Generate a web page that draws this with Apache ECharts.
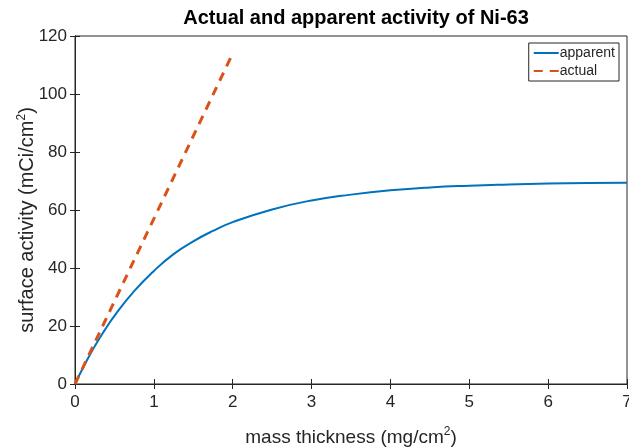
<!DOCTYPE html>
<html>
<head>
<meta charset="utf-8">
<title>Ni-63</title>
<script src="https://cdn.jsdelivr.net/npm/echarts@6/dist/echarts.min.js"></script>
<style>
  html, body { margin: 0; padding: 0; background: #fff; }
  #main { width: 629px; height: 447px; }
</style>
</head>
<body>
<div id="main"></div>
<script>
// mass thickness (mg/cm2)
var thickness = [0, 0.125, 0.25, 0.375, 0.5, 0.75, 1, 1.25, 1.5, 1.75, 2, 2.5, 3, 3.5, 4, 4.5, 5, 5.5, 6, 6.5, 7];
// apparent surface activity (mCi/cm2)
var apparent = [0, 6.8, 13, 18.5, 23.5, 32, 39, 44.8, 49.2, 52.8, 55.8, 60.2, 63.3, 65.3, 66.8, 67.8, 68.4, 68.8, 69.1, 69.3, 69.4];
// actual activity, straight dashed line
var actualX = [0, 2];
var actual = [0, 114];

function pairs(xs, ys) {
  var out = [];
  for (var i = 0; i < xs.length; i++) out.push([xs[i], ys[i]]);
  return out;
}

var textColor = '#262626';
var fontFam = 'Liberation Sans, Arial, sans-serif';
var supStyle = { fontSize: 12, color: textColor, fontFamily: fontFam, verticalAlign: 'top', padding: [0, 0, 11, 0] };

var chart = echarts.init(document.getElementById('main'));
var option = {
  animation: false,
  title: {
    text: 'Actual and apparent activity of Ni-63',
    left: 351,
    textAlign: 'center',
    top: 3,
    textStyle: { fontSize: 20, fontWeight: 'bold', color: '#000', fontFamily: fontFam }
  },
  legend: {
    right: 10,
    top: 43,
    orient: 'vertical',
    itemWidth: 25,
    itemHeight: 14,
    itemGap: 4,
    padding: [3, 4, 3, 4],
    borderColor: '#262626',
    borderWidth: 1,
    borderRadius: 0,
    backgroundColor: '#fff',
    itemStyle: { opacity: 0 },
    textStyle: { fontSize: 14, color: textColor, fontFamily: fontFam, padding: [0, 0, 0, -4] },
    data: ['apparent', 'actual']
  },
  grid: {
    left: 75, right: 2, top: 36, bottom: 63,
    outerBoundsMode: 'none',
    containLabel: false,
    show: true, borderColor: textColor, borderWidth: 1
  },
  xAxis: [{
    type: 'value', min: 0, max: 7, interval: 1,
    name: 'mass thickness (mg/cm{sup|2})',
    nameLocation: 'middle',
    nameGap: 42,
    nameMoveOverlap: false,
    nameTextStyle: { fontSize: 19, color: textColor, fontFamily: fontFam, rich: { sup: supStyle } },
    axisLine: { show: true, lineStyle: { color: textColor } },
    axisTick: { inside: true, length: 5, lineStyle: { color: textColor } },
    axisLabel: { fontSize: 17, color: textColor, fontFamily: fontFam, margin: 10 },
    splitLine: { show: false }
  }, {
    type: 'value', min: 0, max: 7, interval: 1, position: 'top',
    axisLine: { show: true, lineStyle: { color: textColor } },
    axisTick: { inside: true, length: 5, lineStyle: { color: textColor } },
    axisLabel: { show: false },
    splitLine: { show: false }
  }],
  yAxis: [{
    type: 'value', min: 0, max: 120, interval: 20,
    name: 'surface activity (mCi/cm{sup|2})',
    nameLocation: 'middle',
    nameGap: 36,
    nameMoveOverlap: false,
    nameTextStyle: { fontSize: 20, color: textColor, fontFamily: fontFam, padding: [0, 20, 0, 0], rich: { sup: supStyle } },
    axisLine: { show: true, lineStyle: { color: textColor } },
    axisTick: { inside: true, length: 5, lineStyle: { color: textColor } },
    axisLabel: { fontSize: 17, color: textColor, fontFamily: fontFam, margin: 8 },
    splitLine: { show: false }
  }, {
    type: 'value', min: 0, max: 120, interval: 20, position: 'right',
    axisLine: { show: true, lineStyle: { color: textColor } },
    axisTick: { inside: true, length: 5, lineStyle: { color: textColor } },
    axisLabel: { show: false },
    splitLine: { show: false }
  }],
  series: [{
    name: 'apparent',
    type: 'line',
    smooth: true,
    showSymbol: false,
    symbol: 'none',
    data: pairs(thickness, apparent),
    lineStyle: { color: '#0072BD', width: 2 },
    itemStyle: { color: '#0072BD' },
    z: 2
  }, {
    name: 'actual',
    type: 'line',
    showSymbol: false,
    symbol: 'none',
    data: pairs(actualX, actual),
    lineStyle: { color: '#D95319', width: 3, type: [9, 7] },
    itemStyle: { color: '#D95319' },
    z: 3
  }]
};
chart.setOption(option);
</script>
</body>
</html>
